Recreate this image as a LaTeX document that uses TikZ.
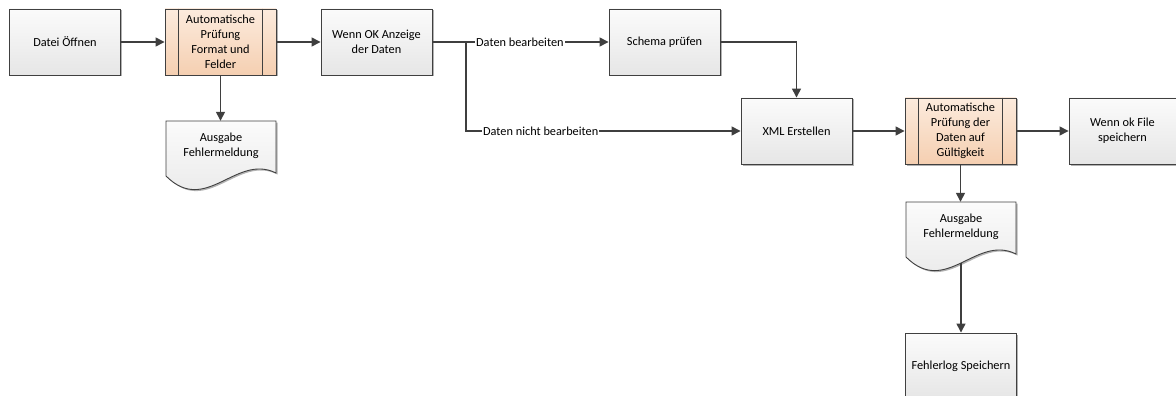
\documentclass[tikz,border=0pt]{standalone}
\usepackage{fontspec}
\setmainfont{Carlito}
\usetikzlibrary{shadows,arrows.meta}
\definecolor{bordercol}{HTML}{404040}
\definecolor{linecol}{HTML}{3F3F3F}
\definecolor{boxtop}{HTML}{FBFBFB}
\definecolor{boxbot}{HTML}{E6E6E6}
\definecolor{ortop}{HTML}{FCEBDD}
\definecolor{orbot}{HTML}{F5CFB1}
\newcommand\fsz{\fontsize{12.3}{15}\selectfont}
\begin{document}
\begin{tikzpicture}[x=1pt,y=-1pt,
 shad/.style={drop shadow={shadow xshift=1.5pt,shadow yshift=-1.5pt,opacity=0.3,fill=black}},
 box/.style={shad, draw=bordercol, line width=0.9pt, minimum width=111pt, minimum height=66pt, align=center, top color=boxtop, bottom color=boxbot, font=\fsz, inner sep=0pt},
 obox/.style={box, top color=ortop, bottom color=orbot},
 arr/.style={draw=linecol, line width=1.4pt, -{Triangle[length=9pt,width=9pt]}},
 ln/.style={draw=linecol, line width=1.4pt},
 elabel/.style={fill=white, font=\fsz, inner sep=1pt},
 docshape/.style={shad, draw=bordercol, line width=0.9pt, top color=boxtop, bottom color=boxbot},
 doctext/.style={font=\fsz, align=center, minimum width=110pt, minimum height=50pt, inner sep=0pt},
 sideline/.style={draw=bordercol, line width=0.9pt}
]
\useasboundingbox (0,0) rectangle (1176,396);

% process boxes
\node[box] (datei) at (65,42) {Datei Öffnen};
\node[obox] (auto1) at (220.5,42) {Automatische\\Prüfung\\Format und\\Felder};
\node[box] (wenn) at (376.5,42) {Wenn OK Anzeige\\der Daten};
\node[box] (schema) at (664.5,42) {Schema prüfen};
\node[box] (xml) at (796.5,131) {XML Erstellen};
\node[obox] (auto2) at (960.5,131) {Automatische\\Prüfung der\\Daten auf\\Gültigkeit};
\node[box, minimum width=107pt] (file) at (1122.5,131) {Wenn ok File\\speichern};
\node[box] (flog) at (961,366) {Fehlerlog Speichern};

% side bars of predefined-process boxes
\draw[sideline] ([xshift=14pt]auto1.north west) -- ([xshift=14pt]auto1.south west);
\draw[sideline] ([xshift=-14pt]auto1.north east) -- ([xshift=-14pt]auto1.south east);
\draw[sideline] ([xshift=14pt]auto2.north west) -- ([xshift=14pt]auto2.south west);
\draw[sideline] ([xshift=-14pt]auto2.north east) -- ([xshift=-14pt]auto2.south east);

% document shapes
\path[docshape] (166,121) -- (276,121) -- (276,173) .. controls (236,153) and (206,216) .. (166,176) -- cycle;
\node[doctext] (doc1) at (221,146) {Ausgabe\\Fehlermeldung};
\path[docshape] (906,202) -- (1016,202) -- (1016,254) .. controls (976,234) and (946,297) .. (906,257) -- cycle;
\node[doctext] (doc2) at (961,227) {Ausgabe\\Fehlermeldung};
\coordinate (w2) at (961,263);

% connectors
\coordinate (j) at (466,42);
\draw[arr] (datei) -- (auto1);
\draw[arr] (auto1.south) -- (auto1.south |- doc1.north);
\draw[arr] (auto1) -- (wenn);
\draw[ln] (wenn.east) -- (j);
\draw[arr] (j) -- node[elabel,pos=0.378]{Daten bearbeiten} (schema);
\draw[arr] (j) |- node[elabel,pos=0.636]{Daten nicht bearbeiten} (xml);
\draw[arr] (schema.east) -| (xml.north);
\draw[arr] (xml) -- (auto2);
\draw[arr] (auto2) -- (file);
\draw[arr] (auto2.south) -- (auto2.south |- doc2.north);
\draw[arr] (w2) -- (flog);
\end{tikzpicture}
\end{document}
